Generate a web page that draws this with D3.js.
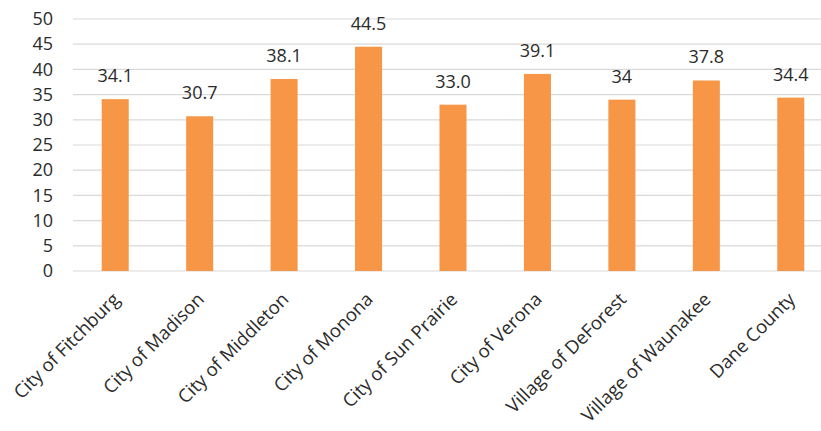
<!DOCTYPE html>
<html>
<head>
<meta charset="utf-8">
<script src="https://cdn.jsdelivr.net/npm/d3@7"></script>
<style>
  body { margin: 0; background: #fff; }
  text { font-family: "Open Sans", sans-serif; fill: #2b2b2b; }
</style>
</head>
<body>
<div id="chart"></div>
<script>
var categories = ["City of Fitchburg", "City of Madison", "City of Middleton", "City of Monona",
  "City of Sun Prairie", "City of Verona", "Village of DeForest", "Village of Waunakee", "Dane County"];
var values = [34.1, 30.7, 38.1, 44.5, 33.0, 39.1, 34, 37.8, 34.4];
var valueLabels = ["34.1", "30.7", "38.1", "44.5", "33.0", "39.1", "34", "37.8", "34.4"];
var yTicks = [0, 5, 10, 15, 20, 25, 30, 35, 40, 45, 50];

var svgWidth = 821;
var svgHeight = 431;

var margin = { top: 19, left: 73 };
var width = 760;   // plot runs past the right edge, as in the cropped original
var height = 252;

var svg = d3.select("#chart")
  .append("svg")
  .attr("width", svgWidth)
  .attr("height", svgHeight);

var chartGroup = svg.append("g")
  .attr("transform", `translate(${margin.left}, ${margin.top})`);

var xScale = d3.scaleBand()
  .domain(categories)
  .range([0, width])
  .paddingInner(0.68)
  .paddingOuter(0.34);

var yScale = d3.scaleLinear()
  .domain([0, 50])
  .range([height, 0]);

// gridlines
chartGroup.selectAll(".grid")
  .data(yTicks)
  .enter()
  .append("line")
  .attr("x1", 0)
  .attr("x2", width)
  .attr("y1", d => yScale(d))
  .attr("y2", d => yScale(d))
  .attr("stroke", "#d9d9d9")
  .attr("stroke-width", 1.2);

// y axis labels
var leftAxis = d3.axisLeft(yScale).tickValues(yTicks).tickSize(0).tickPadding(20);
var yAxis = chartGroup.append("g").call(leftAxis);
yAxis.select(".domain").remove();
yAxis.selectAll("text")
  .style("font-size", "18px")
  .attr("fill", "#2b2b2b");

// bars
chartGroup.selectAll(".bar")
  .data(values)
  .enter()
  .append("rect")
  .attr("x", (d, i) => xScale(categories[i]))
  .attr("y", d => yScale(d))
  .attr("width", xScale.bandwidth())
  .attr("height", d => height - yScale(d))
  .attr("fill", "#f79646");

// value labels
chartGroup.selectAll(".val")
  .data(values)
  .enter()
  .append("text")
  .attr("x", (d, i) => xScale(categories[i]) + xScale.bandwidth() / 2)
  .attr("y", d => yScale(d) - 17)
  .attr("text-anchor", "middle")
  .style("font-size", "18px")
  .text((d, i) => valueLabels[i]);

// category labels rotated
var bottomAxis = d3.axisBottom(xScale).tickSize(0).tickPadding(0);
var xAxis = chartGroup.append("g")
  .attr("transform", `translate(0, ${height})`)
  .call(bottomAxis);
xAxis.select(".domain").remove();
xAxis.selectAll("text")
  .attr("fill", "#2b2b2b")
  .style("font-size", "18.5px")
  .attr("text-anchor", "end")
  .attr("dy", "0.35em")
  .attr("transform", "translate(1, 25) rotate(-45)");
</script>
</body>
</html>
